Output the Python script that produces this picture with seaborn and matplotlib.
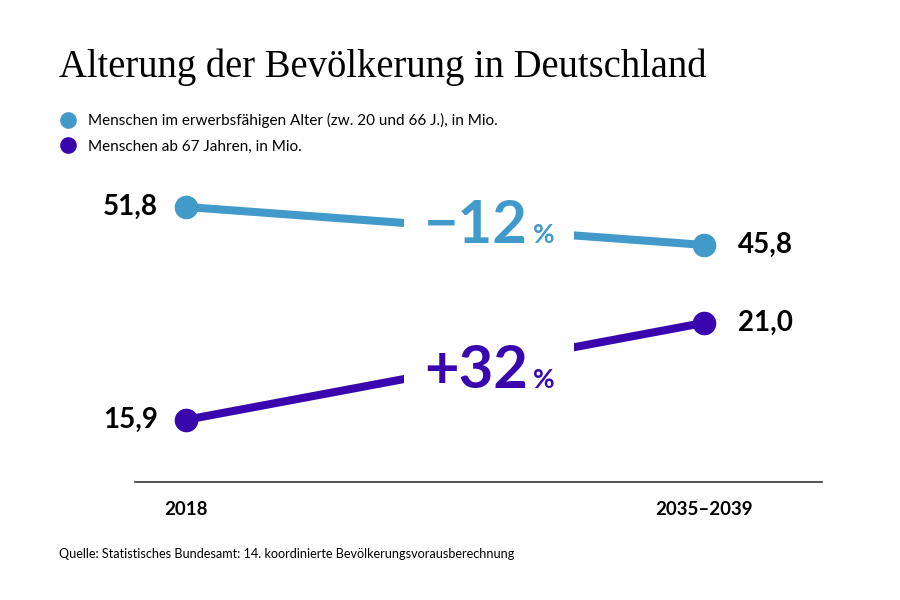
import numpy as np
import pandas as pd
import matplotlib.pyplot as plt
from matplotlib.lines import Line2D
from matplotlib.offsetbox import TextArea, HPacker, AnnotationBbox
import seaborn as sns

sns.set_theme(style="white")
plt.rcParams["font.family"] = ["Lato", "DejaVu Sans"]

# data
periods = ["2018", "2035–2039"]
working_age = [51.8, 45.8]
seniors = [15.9, 21.0]
change_labels = ["−12", "+32"]
value_labels_work = ["51,8", "45,8"]
value_labels_old = ["15,9", "21,0"]
series_names = ["Menschen im erwerbsfähigen Alter (zw. 20 und 66 J.), in Mio.",
                "Menschen ab 67 Jahren, in Mio."]

blue = "#419ac9"
purple = "#3a06ad"

fig = plt.figure(figsize=(9, 6), dpi=100)
pos = [0.15, 0.197, 0.7633, 0.503]
ax = fig.add_axes(pos)
ax2 = fig.add_axes(pos, sharex=ax)
ax2.patch.set_visible(False)

x = np.arange(len(periods))
df_old = pd.DataFrame({"x": x, "value": seniors})
df_work = pd.DataFrame({"x": x, "value": working_age})

sns.lineplot(data=df_old, x="x", y="value", ax=ax, color=purple, lw=5.8,
             marker="o", markersize=17, markeredgewidth=0)
sns.lineplot(data=df_work, x="x", y="value", ax=ax2, color=blue, lw=5.8,
             marker="o", markersize=17, markeredgewidth=0)

ax.set_xlim(-0.0985, 1.228)
ax.set_ylim(12.64, 28.52)
ax2.set_ylim(8.38, 56.06)

for a, vals, labs, col, chg in [(ax2, working_age, value_labels_work, blue, change_labels[0]),
                                (ax, seniors, value_labels_old, purple, change_labels[1])]:
    a.annotate(labs[0], (0, vals[0]), xytext=(-20, 0), textcoords="offset points",
               ha="right", va="center", fontsize=20, fontweight="bold", color="black")
    a.annotate(labs[1], (1, vals[1]), xytext=(24.5, 0), textcoords="offset points",
               ha="left", va="center", fontsize=20, fontweight="bold", color="black")
    mid = np.mean(vals)
    # big change number + small percent sign, on a white box that cuts the line
    big = TextArea(chg, textprops=dict(fontsize=43, fontweight="bold", color=col))
    pct = TextArea("%", textprops=dict(fontsize=19, fontweight="bold", color=col))
    pack = HPacker(children=[big, pct], align="baseline", pad=0, sep=4)
    ab = AnnotationBbox(pack, (0.5, mid), xybox=(32, 0), boxcoords="offset points",
                        box_alignment=(0.5, 0.5), frameon=True, fontsize=10,
                        bboxprops=dict(fc="white", ec="none", boxstyle="square,pad=1.4"),
                        zorder=5)
    a.add_artist(ab)

for a in (ax, ax2):
    for s in ["top", "right", "left"]:
        a.spines[s].set_visible(False)
    a.set_yticks([])
    a.set_xlabel("")
    a.set_ylabel("")
ax2.spines["bottom"].set_visible(False)
ax2.tick_params(axis="x", labelbottom=False, length=0)
ax.spines["bottom"].set_color("#333333")
ax.spines["bottom"].set_linewidth(1.2)
ax.set_xticks(x)
ax.set_xticklabels(periods, fontsize=13.5, fontweight="bold", color="black")
ax.tick_params(axis="x", length=0, pad=14)

fig.text(0.066, 0.92, "Alterung der Bevölkerung in Deutschland", color="black",
         fontsize=27.8, family=["Liberation Serif", "DejaVu Serif"], va="top")

handles = [Line2D([], [], marker="o", ls="", ms=12, color=c, markeredgewidth=0)
           for c in (blue, purple)]
fig.legend(handles, series_names, loc="upper left", bbox_to_anchor=(0.065, 0.812),
           frameon=False, fontsize=11, handletextpad=0.75, labelspacing=0.78,
           handlelength=1.2, borderaxespad=0, borderpad=0, labelcolor="black")

fig.text(0.066, 0.077, "Quelle: Statistisches Bundesamt: 14. koordinierte Bevölkerungsvorausberechnung",
         fontsize=9.1, va="center", color="black")

fig.savefig("out.png", dpi=100, facecolor="white")
